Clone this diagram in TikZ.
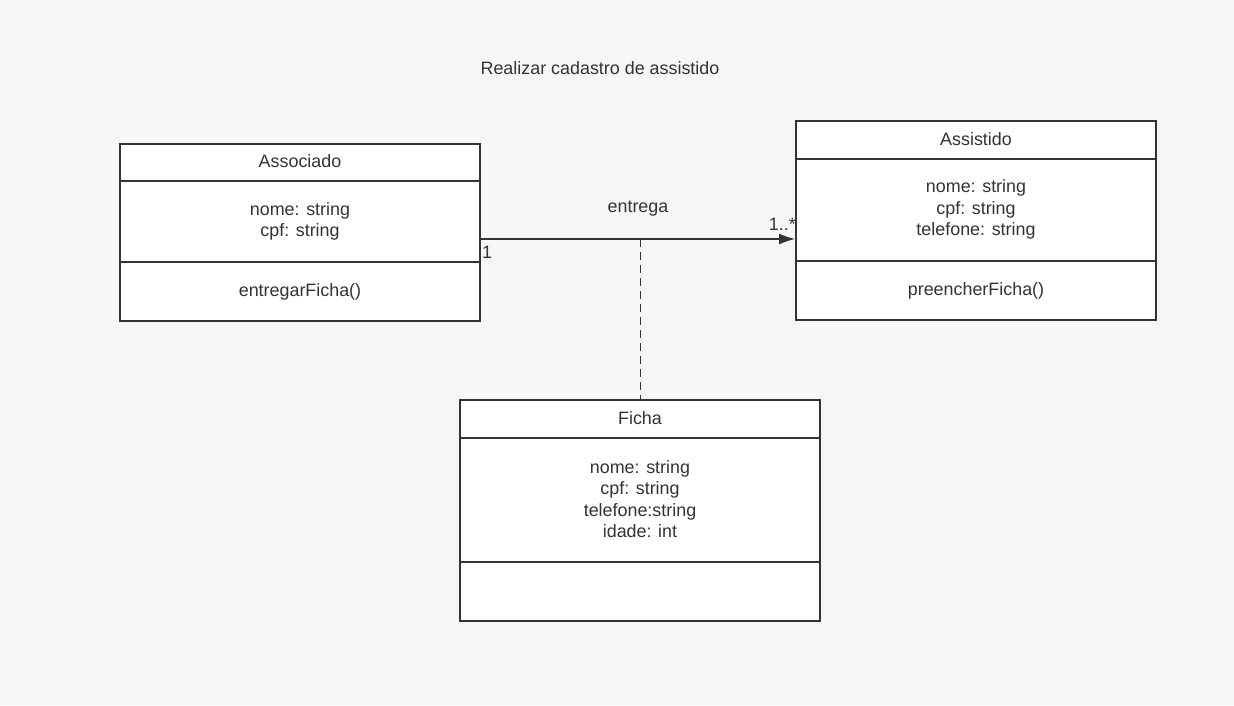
\documentclass[tikz,border=0pt]{standalone}
\usepackage{fontspec}
\setmainfont{Liberation Sans}
\usetikzlibrary{arrows.meta}
\definecolor{bgcol}{HTML}{F6F6F6}
\definecolor{inkcol}{HTML}{333333}
\begin{document}
\begin{tikzpicture}[x=1pt,y=-1pt,
    classbox/.style={draw=inkcol,fill=white,line width=2pt,minimum
        width=360pt,inner sep=0pt},
    divider/.style={draw=inkcol,line width=2pt},
    txt/.style={text=inkcol,font=\fontsize{17.9}{21.5}\selectfont,
        align=center,inner sep=0pt},
    assoc/.style={draw=inkcol,line width=1.2pt,-{Latex[length=16pt,width=11pt]}}]

    % the background
    \fill[bgcol] (0,0) rectangle (1234,705);
    \useasboundingbox (0,0) rectangle (1234,705);

    \node[txt] (title) at (600,68.5) {Realizar cadastro de assistido};

    % the classes
    \node[classbox,minimum height=177pt] (asso) at (300,232.5) {};
    \node[classbox,minimum height=199pt] (assi) at (976,220.5) {};
    \node[classbox,minimum height=221pt] (ficha) at (640,510.5) {};

    \draw[divider] (asso.west |- 0,181) -- (asso.east |- 0,181);
    \draw[divider] (asso.west |- 0,262) -- (asso.east |- 0,262);
    \draw[divider] (assi.west |- 0,159) -- (assi.east |- 0,159);
    \draw[divider] (assi.west |- 0,261) -- (assi.east |- 0,261);
    \draw[divider] (ficha.west |- 0,438) -- (ficha.east |- 0,438);
    \draw[divider] (ficha.west |- 0,562) -- (ficha.east |- 0,562);

    % the texts
    \node[txt] (asso-name) at (300,161.5) {Associado};
    \node[txt] (asso-att) at (300,221.5) {nome: string\\cpf: string};
    \node[txt] (asso-op) at (300,291.5) {entregarFicha()};

    \node[txt] (assi-name) at (976,139) {Assistido};
    \node[txt] (assi-att) at (976,209.5) {nome: string\\cpf: string\\telefone: string};
    \node[txt] (assi-op) at (976,290.5) {preencherFicha()};

    \node[txt] (ficha-name) at (640,418) {Ficha};
    \node[txt] (ficha-att) at (640,499) {nome: string\\cpf: string\\telefone:string\\idade: int};

    % the association
    \coordinate (mid) at (640,239);
    \draw[assoc] (asso.east |- mid) to
    node[pos=.5,above=22pt,txt]{entrega} (assi.west |- mid);
    \node[txt,anchor=north west] (one) at (482,246) {1};
    \node[txt,anchor=south east] (many) at (796,231) {1..*};
    \draw[draw=inkcol,line width=1pt,dash pattern=on 8pt off 5pt] (mid) -- (ficha.north);
  \end{tikzpicture}
\end{document}
